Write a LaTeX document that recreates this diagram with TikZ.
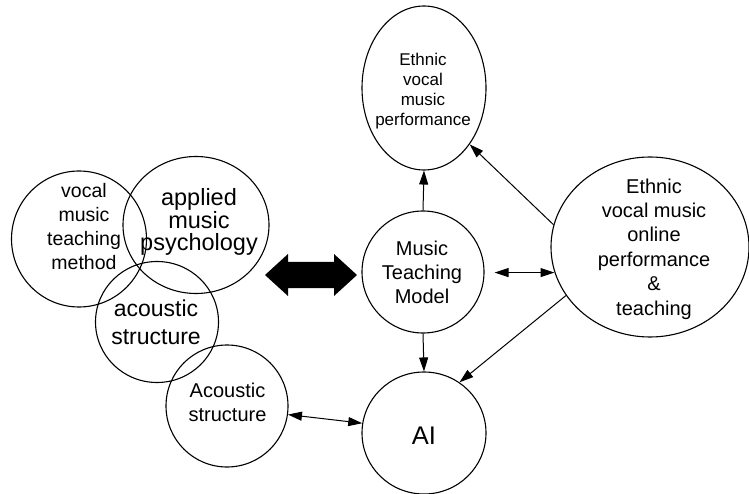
\documentclass[tikz,border=0pt]{standalone}
\usepackage{fontspec}
\setmainfont{Liberation Sans}
\usetikzlibrary{shapes.geometric,arrows.meta}
\begin{document}
\begin{tikzpicture}[x=1pt,y=-1pt,
  shp/.style={draw,ellipse,line width=1.1pt,inner sep=0pt},
  txt/.style={align=center,inner sep=0pt},
  tip/.tip={Triangle[length=14pt,width=9pt]},
  arr/.style={line width=1pt,-tip},
  darr/.style={line width=1pt,tip-tip}]
\useasboundingbox (0,0) rectangle (749,494);
% left cluster
\node[shp,minimum width=135pt,minimum height=136pt] (vm) at (79,239) {};
\node[shp,minimum width=146pt,minimum height=137pt] (ap) at (196,225) {};
\node[shp,minimum width=123pt,minimum height=121pt] (ac) at (157,322) {};
\node[shp,minimum width=122pt,minimum height=122pt] (ac2) at (227,406) {};
\node[txt,font=\fontsize{19.5}{24}\selectfont] (vmt) at (84,227) {vocal\\music\\teaching\\method};
\node[txt,font=\fontsize{23.5}{21.5}\selectfont] (apt) at (199,222) {applied\\music\\psychology};
\node[txt,font=\fontsize{23}{28}\selectfont] (act) at (156,322.5) {acoustic\\structure};
\node[txt,font=\fontsize{20}{24}\selectfont] (ac2t) at (227.5,402.5) {Acoustic\\structure};
% right part
\node[shp,minimum width=124pt,minimum height=164pt] (perf) at (424,88) {};
\node[txt,font=\fontsize{17}{20}\selectfont] (perft) at (423,90.7) {Ethnic\\vocal\\music\\performance};
\node[shp,minimum width=122pt,minimum height=122pt] (mtm) at (423,272) {};
\node[txt,font=\fontsize{20}{24}\selectfont] (mtmt) at (422,272) {Music\\Teaching\\Model};
\node[shp,minimum width=124pt,minimum height=122pt] (ai) at (424,433) {};
\node[txt,font=\fontsize{25.5}{30}\selectfont] (ait) at (424,435.7) {AI};
\node[shp,minimum width=198pt,minimum height=180pt] (on) at (650,247) {};
\node[txt,font=\fontsize{20}{24.4}\selectfont] (ont) at (654,249) {Ethnic\\vocal music\\online\\performance\\\&\\teaching};
% big double arrow
\fill (265,275) -- (288,254) -- (288,262) -- (334,262) -- (334,254) -- (357,275)
      -- (334,296) -- (334,288) -- (288,288) -- (288,296) -- cycle;
% connectors
\draw[arr] (mtm.north) -- (perf.south);
\draw[arr] (on.167) -- (perf.-51);
\draw[darr,shorten >=10pt] (on.195) -- (on.195 -| mtm.east);
\draw[arr] (mtm.south) -- (ai.north);
\draw[arr] (on.210) -- (ai.55);
\draw[darr] (ac2.-8) -- (ai.171);
\end{tikzpicture}
\end{document}
